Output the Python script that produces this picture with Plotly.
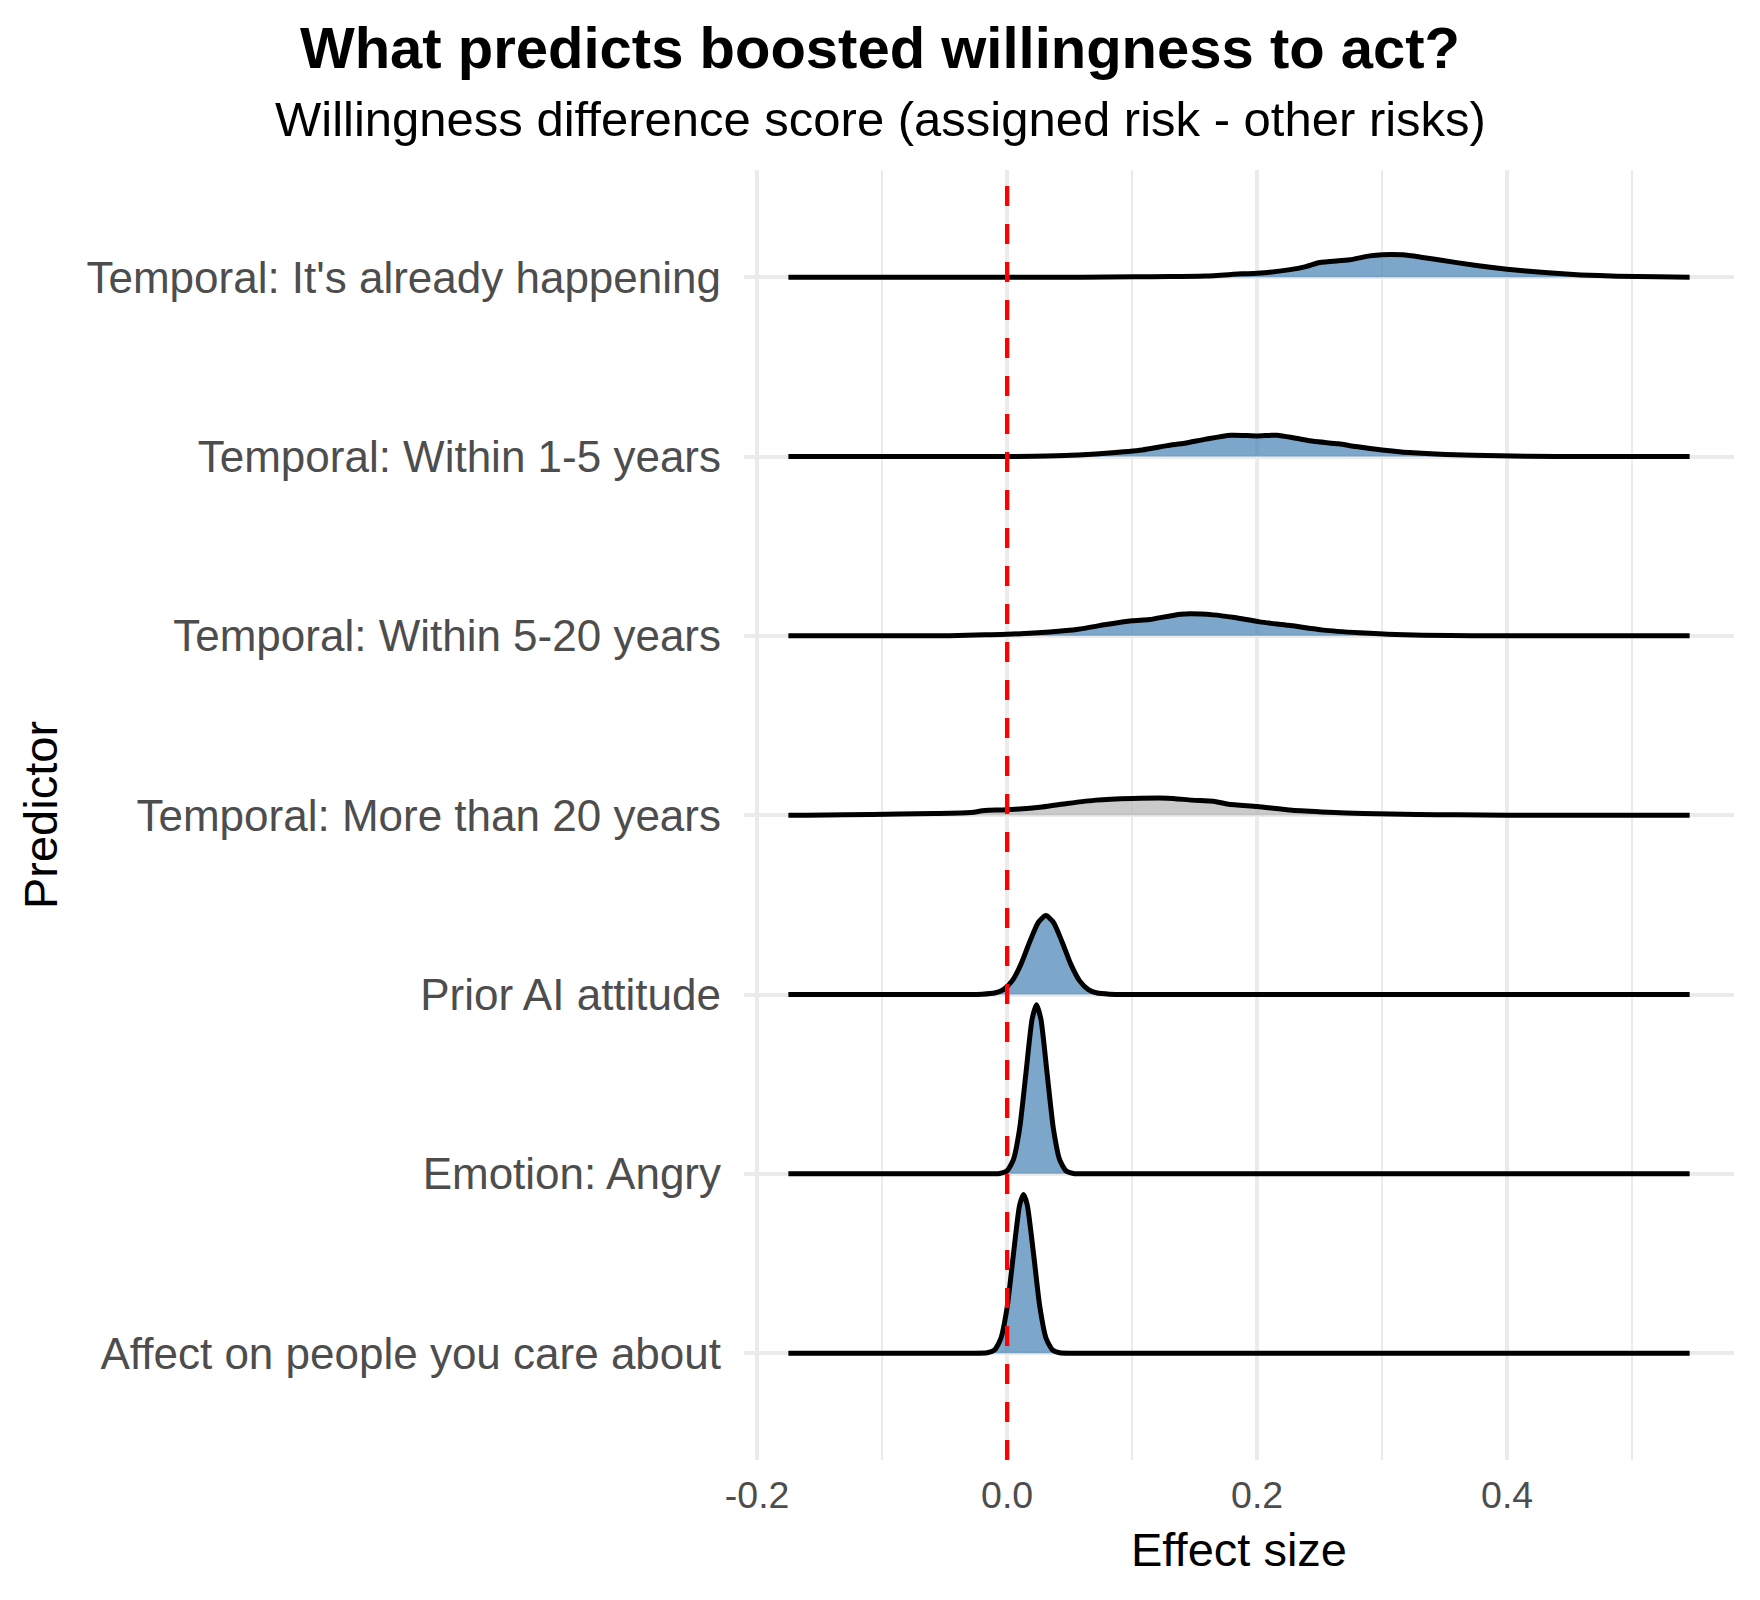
import plotly.graph_objects as go

# Ridgeline of posterior effect sizes per predictor (heights in row units)

predictors = [
    "Affect on people you care about",
    "Emotion: Angry",
    "Prior AI attitude",
    "Temporal: More than 20 years",
    "Temporal: Within 5-20 years",
    "Temporal: Within 1-5 years",
    "Temporal: It's already happening",
]
# interval excludes zero -> coloured, otherwise grey
credible = [True, True, True, False, True, True, True]

x_affect = [-0.175, -0.05, -0.03, -0.016, -0.01, -0.005, 0.0, 0.005, 0.01, 0.0131, 0.016,
            0.021, 0.026, 0.031, 0.036, 0.042, 0.055, 0.075, 0.546]
h_affect = [0.0, 0.0, 0.0, 0.002, 0.018, 0.082, 0.255, 0.549, 0.825, 0.884, 0.83,
            0.562, 0.266, 0.086, 0.02, 0.002, 0.0, 0.0, 0.0]

x_angry = [-0.175, -0.04, -0.02, -0.006, 0.0, 0.005, 0.01, 0.015, 0.02, 0.0235, 0.027,
           0.032, 0.037, 0.042, 0.047, 0.053, 0.065, 0.085, 0.546]
h_angry = [0.0, 0.0, 0.0, 0.002, 0.017, 0.079, 0.252, 0.558, 0.863, 0.943, 0.863,
           0.558, 0.252, 0.079, 0.017, 0.002, 0.0, 0.0, 0.0]

x_prior = [-0.175, -0.06, -0.04, -0.02, -0.01, -0.003, 0.004, 0.011, 0.018, 0.025, 0.031,
           0.037, 0.044, 0.051, 0.058, 0.065, 0.072, 0.082, 0.095, 0.115, 0.546]
h_prior = [0.0, 0.0, 0.0, 0.002, 0.008, 0.027, 0.076, 0.168, 0.293, 0.403, 0.44,
           0.403, 0.293, 0.168, 0.076, 0.027, 0.008, 0.002, 0.0, 0.0, 0.0]

x_more20 = [-0.175, -0.16, -0.13, -0.086, -0.058, -0.029, -0.018, -0.001, 0.028, 0.048, 0.071,
            0.1, 0.128, 0.148, 0.165, 0.177, 0.2, 0.228, 0.257, 0.285, 0.328, 0.36,
            0.4, 0.43, 0.546]
h_more20 = [0.0, 0.0, 0.002, 0.006, 0.009, 0.015, 0.026, 0.03, 0.046, 0.065, 0.084,
            0.093, 0.095, 0.084, 0.078, 0.061, 0.048, 0.028, 0.017, 0.009, 0.004, 0.002,
            0.0, 0.0, 0.0]

x_5to20 = [-0.175, -0.12, -0.08, -0.046, -0.018, 0.0, 0.034, 0.057, 0.079, 0.1, 0.114,
           0.139, 0.165, 0.182, 0.202, 0.225, 0.253, 0.282, 0.311, 0.354, 0.39, 0.42, 0.546]
h_5to20 = [0.0, 0.0, 0.0, 0.001, 0.006, 0.009, 0.022, 0.037, 0.063, 0.084, 0.091,
           0.121, 0.117, 0.102, 0.078, 0.059, 0.032, 0.017, 0.007, 0.002, 0.0, 0.0, 0.0]

x_1to5 = [-0.175, -0.06, -0.006, 0.022, 0.051, 0.079, 0.108, 0.128, 0.142, 0.159, 0.179,
          0.2, 0.216, 0.231, 0.245, 0.265, 0.279, 0.3, 0.322, 0.351, 0.394, 0.44,
          0.48, 0.546]
h_1to5 = [0.0, 0.0, 0.0, 0.002, 0.007, 0.019, 0.037, 0.061, 0.074, 0.097, 0.119,
          0.115, 0.119, 0.102, 0.085, 0.071, 0.056, 0.037, 0.022, 0.011, 0.004, 0.0,
          0.0, 0.0]

x_now = [-0.175, 0.0, 0.06, 0.102, 0.13, 0.159, 0.188, 0.2, 0.225, 0.239, 0.25,
         0.274, 0.29, 0.3, 0.3165, 0.331, 0.345, 0.374, 0.4, 0.43, 0.459, 0.488, 0.52, 0.546]
h_now = [0.0, 0.0, 0.0, 0.002, 0.004, 0.007, 0.019, 0.022, 0.041, 0.059, 0.082,
         0.097, 0.119, 0.126, 0.125, 0.112, 0.097, 0.067, 0.045, 0.026, 0.013, 0.006, 0.002, 0.0]

ridge_x = [x_affect, x_angry, x_prior, x_more20, x_5to20, x_1to5, x_now]
ridge_h = [h_affect, h_angry, h_prior, h_more20, h_5to20, h_1to5, h_now]

x_ticks = [-0.2, 0.0, 0.2, 0.4]
x_tick_labels = ["-0.2", "0.0", "0.2", "0.4"]

FONT = "Liberation Sans, Arial, sans-serif"
BLUE = "rgba(70,130,180,0.7)"
GREY = "rgba(179,179,179,0.7)"

fig = go.Figure()

# draw top row first so lower ridges sit in front
for i in reversed(range(len(predictors))):
    xs = ridge_x[i]
    ys = [i + 1 + h for h in ridge_h[i]]
    fig.add_trace(go.Scatter(
        x=[xs[0], xs[-1]], y=[i + 1, i + 1], mode="lines",
        line=dict(width=0, color="rgba(0,0,0,0)"), hoverinfo="skip", showlegend=False,
    ))
    fig.add_trace(go.Scatter(
        x=xs, y=ys, mode="lines", fill="tonexty",
        fillcolor=BLUE if credible[i] else GREY,
        line=dict(color="black", width=5, shape="spline", smoothing=0.6),
        name=predictors[i], showlegend=False,
    ))

fig.add_shape(type="line", xref="x", yref="paper", x0=0, x1=0, y0=0, y1=1,
              line=dict(color="#ff0000", width=4.3, dash="20px,18px"), layer="above")

fig.update_layout(
    width=1760, height=1600,
    margin=dict(l=744, r=26, t=170, b=140),
    paper_bgcolor="white", plot_bgcolor="white",
    font=dict(family=FONT, color="black"),
    title=dict(
        text="<b>What predicts boosted willingness to act?</b>",
        font=dict(size=58, color="black", family=FONT),
        xref="container", x=0.5, xanchor="center",
        yref="container", y=1 - 48 / 1600, yanchor="middle",
    ),
    showlegend=False,
)

fig.add_annotation(
    text="Willingness difference score (assigned risk - other risks)",
    xref="paper", yref="paper", x=(880 - 744) / 990, y=(1460 - 119) / 1290,
    xanchor="center", yanchor="middle", showarrow=False,
    font=dict(size=49, color="black", family=FONT),
)

fig.update_xaxes(
    range=[-0.2105, 0.5815],
    tickvals=x_ticks, ticktext=x_tick_labels,
    showgrid=True, gridcolor="#ebebeb", gridwidth=3.5,
    minor=dict(dtick=0.1, tick0=0, showgrid=True, gridcolor="#ebebeb", gridwidth=2),
    zeroline=False, showline=False, ticks="",
    tickfont=dict(size=37.5, color="#4d4d4d", family=FONT),
    ticklabelstandoff=9,
    title=dict(text="Effect size", font=dict(size=47, color="black", family=FONT), standoff=18),
)

fig.update_yaxes(
    range=[0.404, 7.598],
    tickvals=list(range(1, len(predictors) + 1)), ticktext=predictors,
    showgrid=True, gridcolor="#ebebeb", gridwidth=3.5,
    zeroline=False, showline=False, ticks="",
    tickfont=dict(size=44, color="#4d4d4d", family=FONT),
    ticklabelstandoff=22,
    title=dict(text="Predictor", font=dict(size=47, color="black", family=FONT), standoff=13),
)

# page body has a default margin; drop it so the figure sits at the window corner
fig.write_html("out.html", config={"displayModeBar": False},
               post_script="document.body.style.margin = '0';")
